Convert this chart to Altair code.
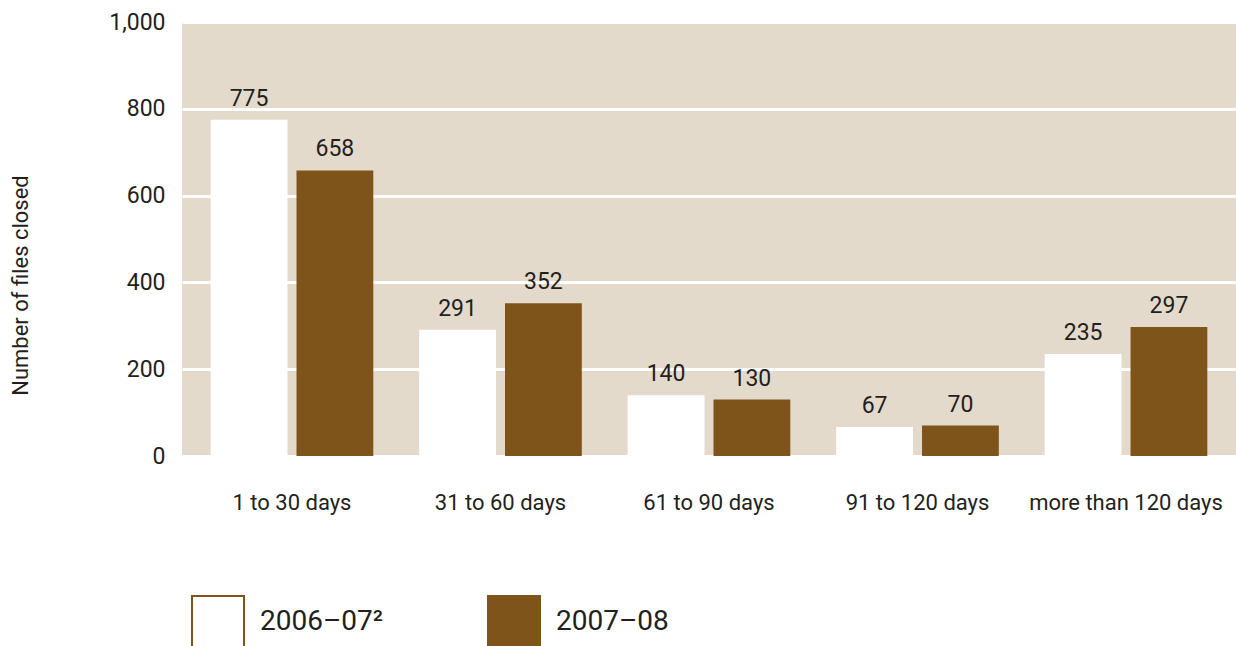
import altair as alt
import pandas as pd

# Files closed by time taken, two reporting years
categories = ["1 to 30 days", "31 to 60 days", "61 to 90 days", "91 to 120 days", "more than 120 days"]
series = ["2006–07²", "2007–08"]
values_2006_07 = [775, 291, 140, 67, 235]
values_2007_08 = [658, 352, 130, 70, 297]
y_ticks = [0, 200, 400, 600, 800, 1000]

rows = []
for cat, a, b in zip(categories, values_2006_07, values_2007_08):
    rows.append({"period": cat, "series": series[0], "value": a})
    rows.append({"period": cat, "series": series[1], "value": b})
df = pd.DataFrame(rows)

FONT = "Roboto"
BROWN = "#7F541A"
PANEL = "#E3DACB"
INK = "#231F20"

x = alt.X(
    "period:N",
    sort=categories,
    scale=alt.Scale(paddingInner=0.22, paddingOuter=0.1375),
    axis=alt.Axis(title=None, labelFontSize=22, labelPadding=36, ticks=False,
                  domain=False, labelAngle=0, labelColor=INK, labelFont=FONT,
                  labelLimit=0),
)
xoff = alt.XOffset("series:N", sort=series, scale=alt.Scale(paddingInner=0.105))
y = alt.Y(
    "value:Q",
    scale=alt.Scale(domain=[0, 1000], nice=False),
    axis=alt.Axis(values=y_ticks, format=",d", title="Number of files closed",
                  labelFontSize=23, labelPadding=17, labelColor=INK, labelFont=FONT,
                  ticks=False, domain=False, grid=True, gridColor="white", gridWidth=3,
                  titleFont=FONT, titleFontSize=22, titleFontWeight="normal",
                  titleColor=INK, titleX=-150, titleY=263),
)

bars = alt.Chart(df).mark_bar(strokeWidth=0).encode(
    x=x,
    xOffset=xoff,
    y=y,
    fill=alt.Fill(
        "series:N",
        sort=series,
        scale=alt.Scale(domain=series, range=["white", BROWN]),
        legend=alt.Legend(
            orient="none", legendX=9, legendY=573, direction="horizontal", title=None,
            symbolType="square", symbolSize=2704, symbolStrokeColor=BROWN,
            symbolStrokeWidth=2, symbolOpacity=1, labelFontSize=28, labelFont=FONT,
            labelColor=INK, labelOffset=15, columnPadding=100, padding=0,
            labelLimit=0,
        ),
    ),
)

labels = alt.Chart(df).mark_text(
    baseline="bottom", dy=-9, fontSize=23, font=FONT, color=INK
).encode(x=x, xOffset=xoff, y=y, text=alt.Text("value:Q"))

chart = (
    alt.layer(bars, labels)
    .properties(
        width=1054, height=434,
        autosize=alt.AutoSizeParams(type="none"),
        padding={"left": 182, "top": 22, "right": 0, "bottom": 190},
        background="white",
    )
    .configure_view(fill=PANEL, stroke=None)
)

chart.save("out.html", embed_options={"renderer": "svg", "actions": False})
